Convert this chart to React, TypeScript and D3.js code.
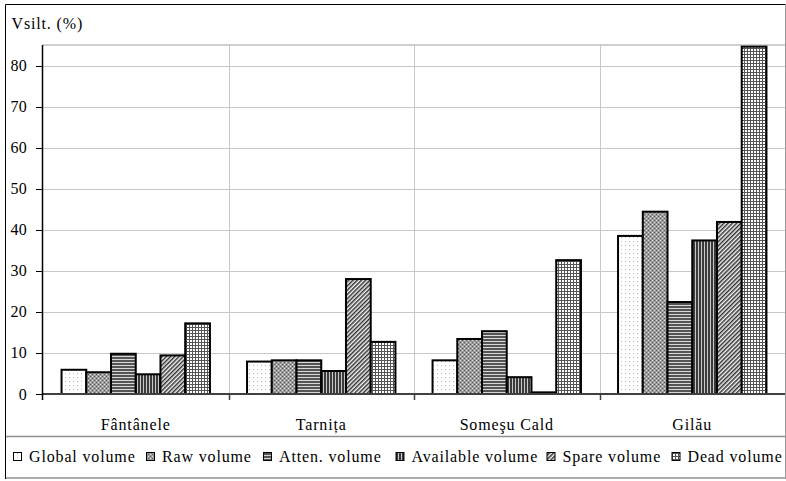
import React from "react";
import * as d3 from "d3";

const categories = ["Fântânele", "Tarnița", "Someşu Cald", "Gilău"];
const seriesNames = ["Global volume", "Raw volume", "Atten. volume", "Available volume", "Spare volume", "Dead volume"];
const globalVolume = [5.9, 7.9, 8.2, 38.5];
const rawVolume = [5.3, 8.2, 13.4, 44.4];
const attenVolume = [9.8, 8.2, 15.3, 22.4];
const availableVolume = [4.8, 5.6, 4.1, 37.4];
const spareVolume = [9.4, 28.0, 0.4, 41.9];
const deadVolume = [17.2, 12.7, 32.6, 84.6];
const yTicks = [0, 10, 20, 30, 40, 50, 60, 70, 80];
const yTitle = "Vsilt. (%)";

const seriesValues = [globalVolume, rawVolume, attenVolume, availableVolume, spareVolume, deadVolume];
const patternIds = ["pGlobal", "pRaw", "pAtten", "pAvail", "pSpare", "pDead"];

const W = 786, H = 481;
const left = 43, right = 785, top = 45, bottom = 394;
const font = "Liberation Serif";

export default function App() {
  const x = d3.scaleBand<string>().domain(categories).range([left, right]).paddingInner(0).paddingOuter(0);
  const xs = d3.scaleBand<string>().domain(seriesNames).range([0, x.bandwidth()]).paddingInner(0).paddingOuter(0.75);
  const y = d3.scaleLinear().domain([0, 85]).range([bottom, top]);

  const legendX = [13, 146, 263, 395.5, 546.5, 671.5];
  const ts = { fontFamily: font, fontSize: "16px" } as React.CSSProperties;

  return (
    <svg width={W} height={H} style={{ position: "absolute", left: 0, top: 0, background: "#fff", fontFamily: font }}>
      <defs>
        <pattern id="pGlobal" width="4" height="4" patternUnits="userSpaceOnUse">
          <rect width="4" height="4" fill="#fff" />
          <rect x="1" y="1" width="1" height="1" fill="#b8b8b8" />
        </pattern>
        <pattern id="pRaw" width="4" height="4" patternUnits="userSpaceOnUse">
          <rect width="4" height="4" fill="#9a9a9a" />
          <rect x="0" y="0" width="1" height="1" fill="#e0e0e0" />
          <rect x="2" y="2" width="1" height="1" fill="#e0e0e0" />
          <rect x="2" y="0" width="1" height="1" fill="#606060" />
          <rect x="0" y="2" width="1" height="1" fill="#606060" />
        </pattern>
        <pattern id="pAtten" width="3" height="3" patternUnits="userSpaceOnUse">
          <rect width="3" height="3" fill="#d8d8d8" />
          <rect x="0" y="0" width="3" height="2" fill="#555" />
        </pattern>
        <pattern id="pAvail" width="3" height="3" patternUnits="userSpaceOnUse">
          <rect width="3" height="3" fill="#c8c8c8" />
          <rect x="0" y="0" width="2" height="3" fill="#3a3a3a" />
        </pattern>
        <pattern id="pSpare" width="3" height="3" patternUnits="userSpaceOnUse" patternTransform="rotate(45)">
          <rect width="3" height="3" fill="#f4f4f4" />
          <rect x="0" y="0" width="1.5" height="3" fill="#333" />
        </pattern>
        <pattern id="pDead" width="3" height="3" patternUnits="userSpaceOnUse">
          <rect width="3" height="3" fill="#fff" />
          <rect x="0" y="0" width="3" height="1" fill="#555" />
          <rect x="0" y="0" width="1" height="3" fill="#555" />
        </pattern>
      </defs>

      {/* outer frame */}
      <line x1={5.5} y1={4.5} x2={785.5} y2={4.5} stroke="#000" />
      <line x1={5.5} y1={4.5} x2={5.5} y2={479} stroke="#000" />
      <line x1={785.5} y1={4.5} x2={785.5} y2={479} stroke="#999" />

      {/* plot border top */}
      <line x1={left} y1={top} x2={right} y2={top} stroke="#a0a0a0" />

      {/* horizontal gridlines */}
      {yTicks.filter(t => t > 0).map(t => (
        <line key={"g" + t} x1={left} x2={right} y1={Math.round(y(t)) + 0.5} y2={Math.round(y(t)) + 0.5} stroke="#c8c8c8" />
      ))}
      {/* vertical gridlines */}
      {categories.slice(1).map(c => (
        <line key={"v" + c} x1={Math.round(x(c)!) + 0.5} x2={Math.round(x(c)!) + 0.5} y1={top} y2={bottom} stroke="#c8c8c8" />
      ))}

      {/* bars */}
      {categories.map((c, ci) => (
        <g key={c}>
          {seriesNames.map((s, si) => {
            const v = seriesValues[si][ci];
            const bx = x(c)! + xs(s)!;
            return (
              <rect key={s} x={bx} y={y(v)} width={xs.bandwidth()} height={y(0) - y(v)}
                fill={`url(#${patternIds[si]})`} stroke="#000" strokeWidth={2} />
            );
          })}
        </g>
      ))}

      {/* x axis */}
      <line x1={left} x2={right} y1={bottom} y2={bottom} stroke="#404040" strokeWidth={2} />
      {categories.slice(1).map(c => (
        <line key={"t" + c} x1={Math.round(x(c)!) + 0.5} x2={Math.round(x(c)!) + 0.5} y1={bottom} y2={bottom + 6} stroke="#404040" strokeWidth={1.5} />
      ))}
      {/* y axis */}
      <line x1={left - 0.5} x2={left - 0.5} y1={top} y2={bottom + 6} stroke="#000" strokeWidth={1.5} />
      {yTicks.map(t => (
        <g key={"yt" + t}>
          <line x1={left - 7} x2={left} y1={Math.round(y(t)) + 0.5} y2={Math.round(y(t)) + 0.5} stroke="#000" />
          <text x={27} y={y(t) + 5.5} textAnchor="end" style={ts} letterSpacing={0.3}>{t}</text>
        </g>
      ))}

      {/* title */}
      <text x={11.5} y={29} style={ts} letterSpacing={0.85}>{yTitle}</text>

      {/* category labels */}
      {categories.map(c => (
        <text key={"cl" + c} x={x(c)! + x.bandwidth() / 2} y={429.5} textAnchor="middle" style={ts} letterSpacing={0.85}>{c}</text>
      ))}

      {/* legend */}
      <line x1={6} x2={785} y1={436.5} y2={436.5} stroke="#909090" strokeWidth={1.5} />
      <line x1={6} x2={785} y1={478} y2={478} stroke="#909090" strokeWidth={1.5} />
      {seriesNames.map((s, si) => (
        <g key={"lg" + s}>
          <rect x={legendX[si] + 0.5} y={452.5} width={8} height={8} fill={`url(#${patternIds[si]})`} stroke="#000" />
          <text x={legendX[si] + 16} y={461.5} style={ts} letterSpacing={0.85}>{s}</text>
        </g>
      ))}
    </svg>
  );
}
